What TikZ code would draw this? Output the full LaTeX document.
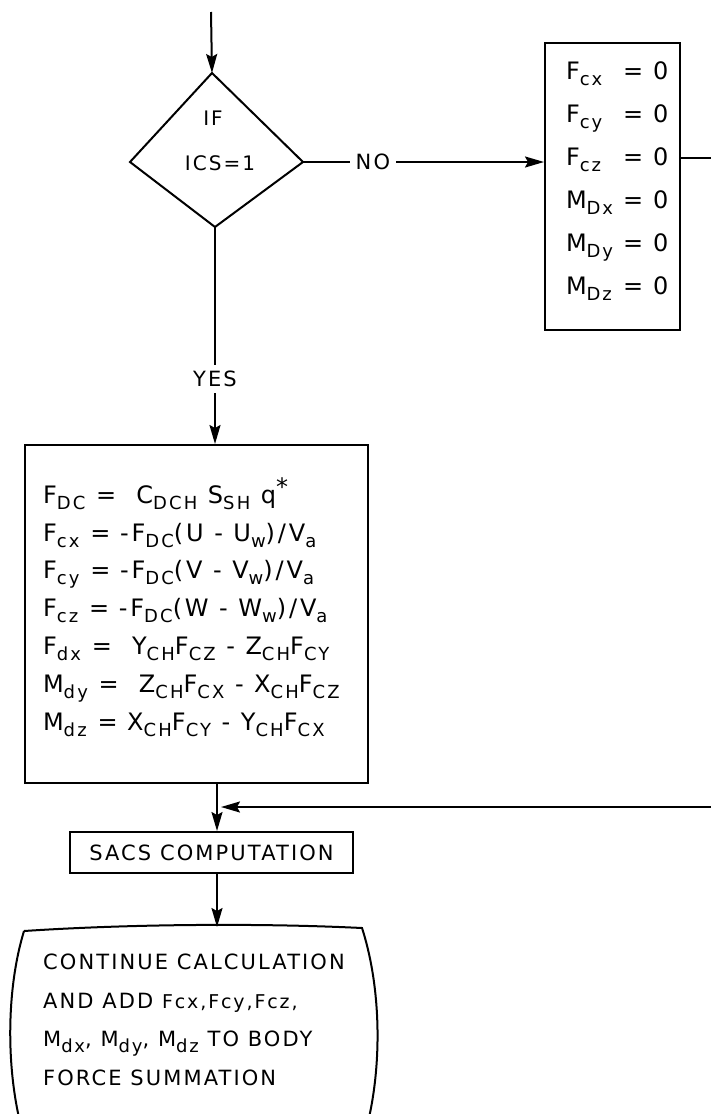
\documentclass[tikz,border=0pt]{standalone}
\usepackage{fontspec}
\setmainfont{DejaVu Sans}[LetterSpace=10]
\usetikzlibrary{arrows.meta}
% lowered subscript in the lettering style of the chart
\newcommand\lsub[1]{\raisebox{-0.45ex}{\fontsize{18}{18}\selectfont #1}}
\newcommand\eqs{\hspace{0.45em}=\hspace{0.4em}}
% one "quantity = 0" line of the zero-force block
\newcommand\zline[2]{\makebox[57pt][l]{#1\lsub{#2}}=\hspace{10pt}0}
\begin{document}
\begin{tikzpicture}[x=1pt,y=-1pt,
  line width=2pt,
  arr/.style={-{Stealth[length=19pt,width=11pt,inset=3pt]}},
  txt/.style={font=\fontsize{20}{20}\selectfont, inner sep=0pt},
  lbl/.style={font=\fontsize{21}{21}\selectfont, fill=white, inner sep=6pt},
  procbox/.style={draw, inner sep=0pt},
  eqtext/.style={align=left, inner sep=0pt}]
\useasboundingbox (0,0) rectangle (711,1114);
\clip (0,0) rectangle (711,1114);

% decision diamond
\coordinate (entry) at (211,12);
\coordinate (dt) at (212,73);
\coordinate (dr) at (303,162);
\coordinate (db) at (215,227);
\coordinate (dl) at (130,162);
\draw (dt) -- (dr) -- (db) -- (dl) -- cycle;
\node[txt] (ifl) at (213,118) {IF};
\node[txt] (ics) at (220,163) {ICS=1};
\draw[arr] (entry) -- (dt);

% zero-force block
\node[procbox, minimum width=135, minimum height=287] (zero) at (612.5,186.5) {};
\node[eqtext, anchor=west, font=\fontsize{24}{43}\selectfont] (zerotxt) at (565,181)
  {\zline{F}{cx}\\ \zline{F}{cy}\\ \zline{F}{cz}\\
   \zline{M}{Dx}\\ \zline{M}{Dy}\\ \zline{M}{Dz}};
\coordinate (zin) at (zero.west |- dr);
\draw[arr] (dr) -- node[lbl, pos=0.29] (no) {NO} (zin);

% force and moment block
\node[procbox, minimum width=343, minimum height=338] (calc) at (196.5,614) {};
\node[eqtext, anchor=west,
      font=\fontsize{24}{37.8}\selectfont\addfontfeature{LetterSpace=12}] (calctxt) at (42,607)
  {F\lsub{DC}\eqs\ C\lsub{DCH} S\lsub{SH} q\raisebox{0.6ex}{*}\\
   F\lsub{cx}\eqs -F\lsub{DC}(U - U\lsub{w})/V\lsub{a}\\
   F\lsub{cy}\eqs -F\lsub{DC}(V - V\lsub{w})/V\lsub{a}\\
   F\lsub{cz}\eqs -F\lsub{DC}(W - W\lsub{w})/V\lsub{a}\\
   F\lsub{dx}\eqs\ Y\lsub{CH}F\lsub{CZ} - Z\lsub{CH}F\lsub{CY}\\
   M\lsub{dy}\eqs\ Z\lsub{CH}F\lsub{CX} - X\lsub{CH}F\lsub{CZ}\\
   M\lsub{dz}\eqs X\lsub{CH}F\lsub{CY} - Y\lsub{CH}F\lsub{CX}};
\coordinate (cin) at (db |- calc.north);
\draw[arr] (db) -- node[lbl, pos=0.70] (yes) {YES} (cin);

% SACS block
\node[procbox, minimum width=283, minimum height=41, align=center,
      font=\fontsize{21}{21}\selectfont] (sacs) at (211.5,852.5) {SACS COMPUTATION};
\coordinate (j) at (217,807);
\draw[arr] (calc.south -| j) -- (sacs.north -| j);

% return path from the zero-force block
\coordinate (zout) at (zero.east |- 0,158);
\coordinate (r1) at (725,158);
\coordinate (r2) at (725,807);
\draw (zout) -- (r1) -- (r2);
\draw[arr, shorten >=4pt] (r2) -- (j);

% summation terminal
\coordinate (tl) at (24,931);
\coordinate (tr) at (362,928);
\coordinate (st) at (217,927);
\draw (tl) .. controls (130,924) and (260,923) .. (tr)
      .. controls (382,990) and (382,1070) .. (366,1130);
\draw (tl) .. controls (6,990) and (6,1070) .. (22,1130);
\node[eqtext, font=\fontsize{21}{38.5}\selectfont] (sum) at (194,1020)
  {CONTINUE CALCULATION\\
   AND ADD {\fontsize{19}{19}\selectfont Fcx,Fcy,Fcz,}\\
   M\lsub{dx}, M\lsub{dy}, M\lsub{dz} TO BODY\\
   FORCE SUMMATION};
\draw[arr] (sacs.south -| st) -- (st);
\end{tikzpicture}
\end{document}
